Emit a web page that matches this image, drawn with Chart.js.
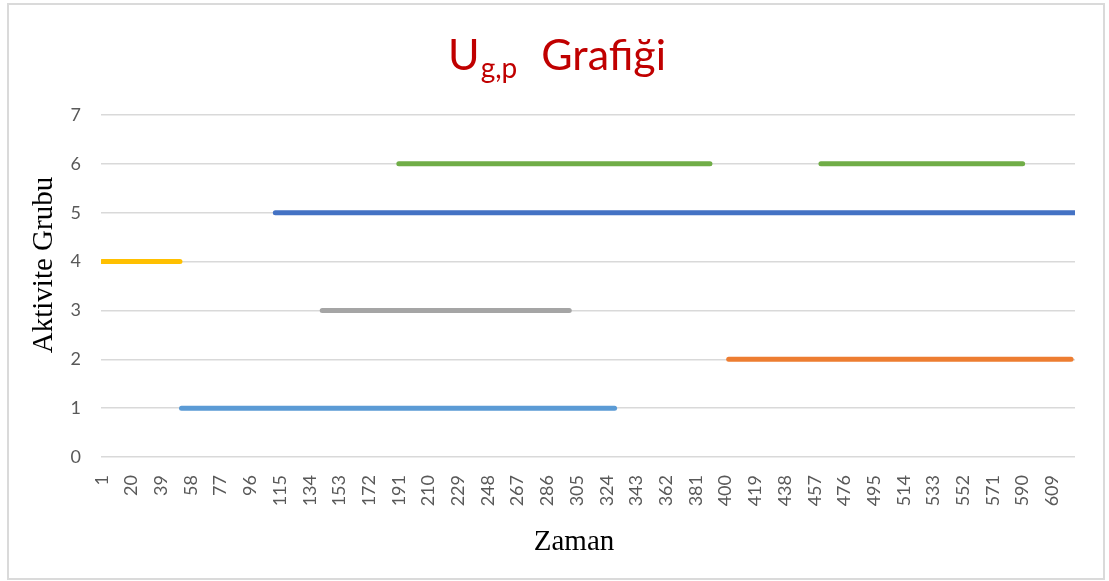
<!DOCTYPE html>
<html>
<head>
<meta charset="utf-8">
<script src="https://cdn.jsdelivr.net/npm/chart.js@4"></script>
<style>
  html, body { margin: 0; padding: 0; background: #fff; }
  #wrap { position: relative; width: 1109px; height: 581px; }
  #frame { position: absolute; left: 7px; top: 3px; width: 1098px; height: 577px;
           border: 2px solid #dadada; box-sizing: border-box; pointer-events: none; }
</style>
</head>
<body>
<div id="wrap">
  <canvas id="chart" width="1109" height="581"></canvas>
  <div id="frame"></div>
</div>
<script>
// x axis: 623 time steps, labelled every 19th
const categoryCount = 623;
const xTickLabels = [1, 20, 39, 58, 77, 96, 115, 134, 153, 172, 191, 210, 229, 248, 267, 286, 305,
  324, 343, 362, 381, 400, 419, 438, 457, 476, 495, 514, 533, 552, 571, 590, 609];

// activity group of each series and the time ranges where it is active
const groups   = [1, 2, 3, 4, 5, 6];
const segStart = [[52], [402], [142], [1], [112], [191, 461]];
const segEnd   = [[329], [621], [300], [51], [623], [390, 590]];
const colors   = ['#5B9BD5', '#ED7D31', '#A5A5A5', '#FFC000', '#4472C4', '#70AD47'];

const datasets = groups.map(function (g, i) {
    const pts = [];
    segStart[i].forEach(function (s, j) {
        if (j > 0) pts.push({ x: segEnd[i][j - 1] + 1, y: null });
        pts.push({ x: s, y: g });
        pts.push({ x: segEnd[i][j], y: g });
    });
    return {
        label: 'Grup ' + g,
        data: pts,
        borderColor: colors[i],
        backgroundColor: colors[i],
        borderWidth: 5,
        borderCapStyle: 'round',
        pointRadius: 0,
        spanGaps: false
    };
});

// title with subscript and the two axis titles
const titles = {
    id: 'titles',
    afterDraw(chart) {
        const c = chart.ctx;
        c.save();
        c.fillStyle = '#C00000';
        c.textBaseline = 'alphabetic';
        c.textAlign = 'left';
        c.font = '43px Lato';
        const wU = c.measureText('U').width;
        const wG = c.measureText('Grafiği').width;
        c.font = '28px Lato';
        const wS = c.measureText('g,p').width;
        const gap = 24;
        let x = 557 - (wU + 1 + wS + gap + wG) / 2;
        c.font = '43px Lato';
        c.fillText('U', x, 69.5);
        x += wU + 1;
        c.font = '28px Lato';
        c.fillText('g,p', x, 78);
        x += wS + gap;
        c.font = '43px Lato';
        c.fillText('Grafiği', x, 69.5);

        c.fillStyle = '#000';
        c.font = '29px "Liberation Serif"';
        c.textAlign = 'center';
        c.fillText('Zaman', 574, 550);
        c.translate(52, 265);
        c.rotate(-Math.PI / 2);
        c.fillText('Aktivite Grubu', 0, 0);
        c.restore();
    }
};

const ctx = document.getElementById('chart');

var chart = new Chart(ctx, {
    type: 'line',
    data: { datasets: datasets },
    plugins: [titles],
    options: {
        responsive: false,
        animation: false,
        layout: { padding: { top: 115, right: 34, bottom: 0, left: 0 } },
        plugins: {
            legend: { display: false },
            title: { display: false },
            tooltip: { enabled: false }
        },
        scales: {
            x: {
                type: 'linear',
                min: 0.5,
                max: categoryCount + 0.5,
                afterFit: function (scale) { scale.height = 124; },
                afterBuildTicks: function (scale) {
                    scale.ticks = xTickLabels.map(function (v) { return { value: v }; });
                },
                grid: { display: false, drawTicks: false },
                border: { display: false },
                ticks: {
                    autoSkip: false,
                    minRotation: 90,
                    maxRotation: 90,
                    padding: 18,
                    color: '#595959',
                    font: { family: 'Lato', size: 18 },
                    callback: function (v) { return String(v); }
                }
            },
            y: {
                min: 0,
                max: 7,
                afterFit: function (scale) { scale.width = 101; },
                grid: { color: '#D9D9D9', lineWidth: 1.5, drawTicks: false },
                border: { display: false },
                ticks: {
                    stepSize: 1,
                    padding: 20,
                    color: '#595959',
                    font: { family: 'Lato', size: 18 }
                }
            }
        }
    }
});
</script>
</body>
</html>
